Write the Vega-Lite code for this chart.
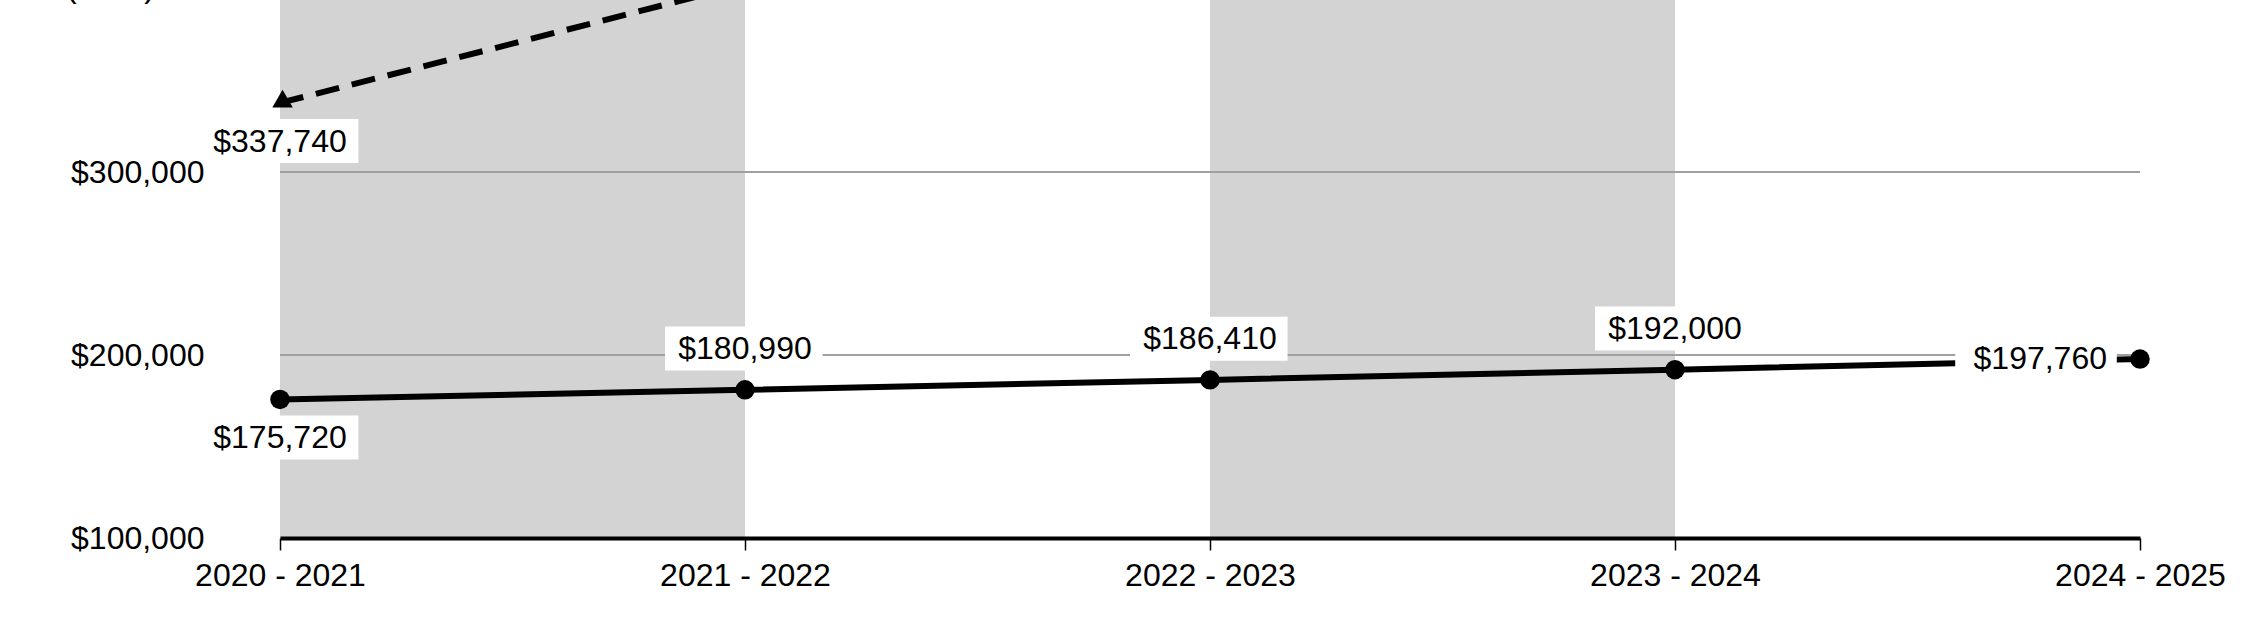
{
  "$schema": "https://vega.github.io/schema/vega-lite/v6.json",
  "width": 1860,
  "height": 538,
  "autosize": {"type": "none"},
  "padding": {"left": 280, "top": 0, "right": 110, "bottom": 84},
  "background": "white",
  "config": {"view": {"stroke": null}, "font": "Liberation Sans"},
  "datasets": {
    "main": [
      {"year": "2020 - 2021", "v": 175720},
      {"year": "2021 - 2022", "v": 180990},
      {"year": "2022 - 2023", "v": 186410},
      {"year": "2023 - 2024", "v": 192000},
      {"year": "2024 - 2025", "v": 197760}
    ],
    "proj": [
      {"year": "2020 - 2021", "v": 337740},
      {"year": "2021 - 2022", "v": 402600}
    ],
    "bands": [
      {"start": "2020 - 2021", "end": "2021 - 2022"},
      {"start": "2022 - 2023", "end": "2023 - 2024"}
    ],
    "grid": [{"v": 200000}, {"v": 300000}]
  },
  "layer": [
    {
      "data": {"name": "bands"},
      "mark": {"type": "rect", "color": "#d3d3d3"},
      "encoding": {
        "x": {
          "field": "start", "type": "ordinal",
          "scale": {"type": "point", "padding": 0, "domain": ["2020 - 2021", "2021 - 2022", "2022 - 2023", "2023 - 2024", "2024 - 2025"]},
          "axis": {
            "title": null, "labelAngle": 0, "labelFontSize": 32, "labelColor": "black", "labelFont": "Liberation Sans",
            "labelPadding": 10, "labelOverlap": false, "domainColor": "black", "domainWidth": 4,
            "tickColor": "black", "tickSize": 12, "tickWidth": 1.5, "grid": false, "zindex": 1
          }
        },
        "x2": {"field": "end"}
      }
    },
    {
      "data": {"name": "grid"},
      "mark": {"type": "rule", "color": "#a0a0a0", "strokeWidth": 2},
      "encoding": {
        "y": {
          "field": "v", "type": "quantitative",
          "scale": {"domain": [100000, 394000], "zero": false, "nice": false},
          "axis": {
            "values": [100000, 200000, 300000], "format": "$,.0f", "domain": false, "ticks": false, "tickSize": 0,
            "grid": false, "labelFontSize": 32, "labelColor": "black", "labelFont": "Liberation Sans", "labelPadding": 76,
            "title": "(USD)", "titleAngle": 0, "titleX": -170, "titleY": -4, "titleAlign": "center",
            "titleBaseline": "alphabetic", "titleFontSize": 32, "titleFontWeight": "normal", "titleColor": "black",
            "titleFont": "Liberation Sans"
          }
        }
      }
    },
    {
      "data": {"name": "proj"},
      "mark": {"type": "line", "color": "black", "strokeWidth": 6, "strokeDash": [24, 13], "clip": true},
      "encoding": {
        "x": {"field": "year", "type": "ordinal"},
        "y": {"field": "v", "type": "quantitative"}
      }
    },
    {
      "data": {"name": "main"},
      "mark": {"type": "line", "color": "black", "strokeWidth": 6},
      "encoding": {
        "x": {"field": "year", "type": "ordinal"},
        "y": {"field": "v", "type": "quantitative"}
      }
    },
    {
      "data": {"name": "main"},
      "transform": [{"filter": {"field": "year", "equal": "2020 - 2021"}}],
      "encoding": {
        "x": {"field": "year", "type": "ordinal"},
        "y": {"field": "v", "type": "quantitative"}
      },
      "layer": [
        {"mark": {"type": "point", "shape": "M-0.88,0.2L0.98,0.2L0.98,0.75L-0.88,0.75Z", "size": 25600, "filled": true, "color": "white", "opacity": 1, "strokeWidth": 0}},
        {"mark": {"type": "text", "fontSize": 32, "font": "Liberation Sans", "color": "black", "align": "center", "baseline": "middle", "dy": 39},
         "encoding": {"text": {"field": "v", "type": "quantitative", "format": "$,.0f"}}}
      ]
    },
    {
      "data": {"name": "proj"},
      "transform": [{"filter": {"field": "year", "equal": "2020 - 2021"}}],
      "encoding": {
        "x": {"field": "year", "type": "ordinal"},
        "y": {"field": "v", "type": "quantitative"}
      },
      "layer": [
        {"mark": {"type": "point", "shape": "M-0.88,0.2L0.98,0.2L0.98,0.75L-0.88,0.75Z", "size": 25600, "filled": true, "color": "white", "opacity": 1, "strokeWidth": 0}},
        {"mark": {"type": "point", "shape": "triangle-left", "angle": 330, "size": 420, "filled": true, "color": "black", "opacity": 1}},
        {"mark": {"type": "text", "fontSize": 32, "font": "Liberation Sans", "color": "black", "align": "center", "baseline": "middle", "dy": 39},
         "encoding": {"text": {"field": "v", "type": "quantitative", "format": "$,.0f"}}}
      ]
    },
    {
      "data": {"name": "main"},
      "transform": [{"filter": {"field": "year", "oneOf": ["2021 - 2022", "2022 - 2023", "2023 - 2024"]}}],
      "encoding": {
        "x": {"field": "year", "type": "ordinal"},
        "y": {"field": "v", "type": "quantitative"}
      },
      "layer": [
        {"mark": {"type": "point", "shape": "M-1,-0.79L0.97,-0.79L0.97,-0.24L-1,-0.24Z", "size": 25600, "filled": true, "color": "white", "opacity": 1, "strokeWidth": 0}},
        {"mark": {"type": "text", "fontSize": 32, "font": "Liberation Sans", "color": "black", "align": "center", "baseline": "middle", "dy": -41},
         "encoding": {"text": {"field": "v", "type": "quantitative", "format": "$,.0f"}}}
      ]
    },
    {
      "data": {"name": "main"},
      "transform": [{"filter": {"field": "year", "equal": "2024 - 2025"}}],
      "encoding": {
        "x": {"field": "year", "type": "ordinal"},
        "y": {"field": "v", "type": "quantitative"}
      },
      "layer": [
        {"mark": {"type": "point", "shape": "M-2.31,-0.28L-0.29,-0.28L-0.29,0.28L-2.31,0.28Z", "size": 25600, "filled": true, "color": "white", "opacity": 1, "strokeWidth": 0}},
        {"mark": {"type": "text", "fontSize": 32, "font": "Liberation Sans", "color": "black", "align": "right", "baseline": "middle", "dx": -33},
         "encoding": {"text": {"field": "v", "type": "quantitative", "format": "$,.0f"}}}
      ]
    },
    {
      "data": {"name": "main"},
      "mark": {"type": "point", "shape": "circle", "size": 380, "filled": true, "color": "black", "opacity": 1},
      "encoding": {
        "x": {"field": "year", "type": "ordinal"},
        "y": {"field": "v", "type": "quantitative"}
      }
    }
  ]
}
